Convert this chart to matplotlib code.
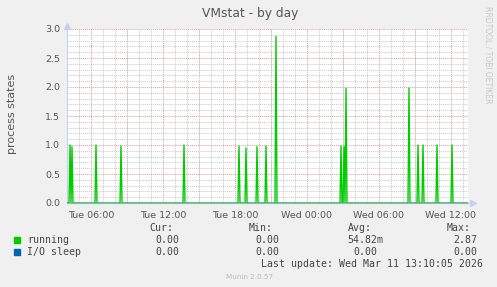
import matplotlib
matplotlib.use("Agg")
import matplotlib.pyplot as plt
import matplotlib.dates as mdates
from matplotlib.ticker import MultipleLocator
import pandas as pd
import numpy as np

# data (5 minute samples)
start = "2026-03-10 04:00"
end = "2026-03-11 13:25"
spike_times = ["2026-03-10 04:15", "2026-03-10 04:25", "2026-03-10 06:25",
               "2026-03-10 08:30", "2026-03-10 13:45", "2026-03-10 18:20",
               "2026-03-10 18:55", "2026-03-10 19:50", "2026-03-10 20:35",
               "2026-03-10 21:25", "2026-03-11 02:50", "2026-03-11 03:05",
               "2026-03-11 03:15", "2026-03-11 08:30", "2026-03-11 09:15",
               "2026-03-11 09:40", "2026-03-11 10:50", "2026-03-11 12:05"]
spike_values = [1.0, 0.97, 1.0, 0.98, 1.0, 0.98, 0.95, 0.97, 0.98,
                2.87, 0.98, 0.97, 1.98, 1.98, 1.0, 1.0, 1.0, 1.0]
iosleep_value = 0.0

legend_names = ["running", "I/O sleep"]
legend_colors = ["#00CC00", "#0066B3"]
cur = ["0.00", "0.00"]
mins = ["0.00", "0.00"]
avgs = ["54.82m", "0.00"]
maxs = ["2.87", "0.00"]

times = pd.date_range(start, end, freq="5min")
running = pd.Series(0.0, index=times)
running[pd.to_datetime(spike_times)] = spike_values
iosleep = pd.Series(iosleep_value, index=times)

W, H = 497, 287
fig = plt.figure(figsize=(W / 100, H / 100), dpi=100, facecolor="#F0F0F0")

def px(x, y):
    return x / W, 1 - y / H

ax = fig.add_axes([67 / W, 1 - 203 / H, 401 / W, 174 / H])
ax.set_facecolor("white")

ax.plot(iosleep.index, iosleep.values, color=legend_colors[1], lw=0.8, zorder=3)
ax.plot(running.index, running.values, color=legend_colors[0], lw=1.0, zorder=4)

ax.set_xlim(pd.Timestamp(start), pd.Timestamp(end))
ax.set_ylim(0, 3.0)

ax.xaxis.set_major_locator(mdates.HourLocator(byhour=[0, 6, 12, 18]))
ax.xaxis.set_major_formatter(mdates.DateFormatter("%a %H:%M"))
ax.xaxis.set_minor_locator(mdates.HourLocator())
ax.yaxis.set_major_locator(MultipleLocator(0.5))
ax.yaxis.set_minor_locator(MultipleLocator(0.1))
ax.yaxis.set_major_formatter(matplotlib.ticker.FormatStrFormatter("%.1f"))

# minor grid gray, major red every 3 hours / 0.5
ax.grid(which="minor", color="#C8C8C8", linestyle=(0, (1, 1)), lw=0.7)
for t in pd.date_range("2026-03-10 06:00", "2026-03-11 12:00", freq="3h"):
    ax.axvline(t, color="#E09A9A", linestyle=(0, (1, 1)), lw=0.7, zorder=1)
for v in np.arange(0.5, 3.01, 0.5):
    ax.axhline(v, color="#E09A9A", linestyle=(0, (1, 1)), lw=0.7, zorder=1)

ax.tick_params(which="both", length=0, labelsize=6.8, labelcolor="#555555", pad=5)
ax.tick_params(axis="x", pad=6)
for s in ["top", "right"]:
    ax.spines[s].set_visible(False)
ax.spines["left"].set_color("#C8D0F0")
ax.spines["bottom"].set_color("#9AA8DC")
ax.spines["left"].set_linewidth(0.8)
ax.spines["bottom"].set_linewidth(0.8)
ax.plot(1.012, 0, ">", color="#C8D0F0", ms=4, transform=ax.transAxes, clip_on=False)
ax.plot(0, 1.02, "^", color="#C8D0F0", ms=4, transform=ax.transAxes, clip_on=False)

fig.text(*px(250, 13), "VMstat - by day", ha="center", va="center", fontsize=8.8, color="#555555")
fig.text(*px(12, 114), "process states", ha="center", va="center", rotation=90, fontsize=8.0, color="#555555")
fig.text(*px(488, 55), "RRDTOOL / TOBI OETIKER", ha="center", va="center", rotation=270,
         fontsize=5.5, color="#C8C8C8")

mono = dict(family="DejaVu Sans Mono", fontsize=7.1, color="#444444", va="center")
fig.text(*px(149, 228), "Cur:", **mono)
fig.text(*px(249, 228), "Min:", **mono)
fig.text(*px(348, 228), "Avg:", **mono)
fig.text(*px(447, 228), "Max:", **mono)
for i, name in enumerate(legend_names):
    y = 240 + 12 * i
    fig.patches.append(plt.Rectangle(px(14, y + 3), 6 / W, 6 / H, transform=fig.transFigure,
                                     color=legend_colors[i]))
    fig.text(*px(27, y), name, **mono)
    fig.text(*px(179, y), cur[i], ha="right", **mono)
    fig.text(*px(279, y), mins[i], ha="right", **mono)
    fig.text(*px(383 if i == 0 else 377, y), avgs[i], ha="right", **mono)
    fig.text(*px(477, y), maxs[i], ha="right", **mono)
fig.text(*px(261, 264), "Last update: Wed Mar 11 13:10:05 2026", **mono)
fig.text(*px(250, 277), "Munin 2.0.57", ha="center", va="center", fontsize=5.2, color="#BBBBBB")

fig.savefig("out.png", dpi=100, facecolor=fig.get_facecolor())
